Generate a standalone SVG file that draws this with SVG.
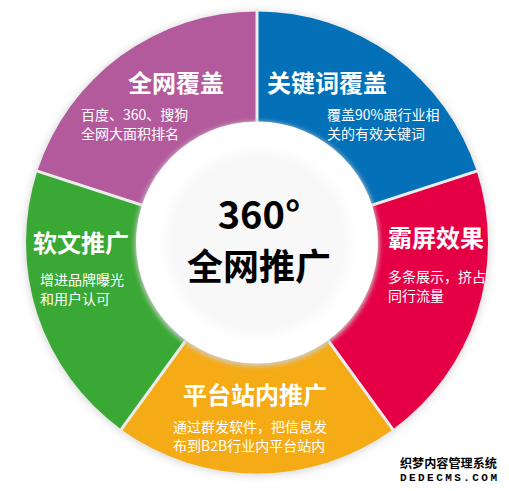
<svg xmlns="http://www.w3.org/2000/svg" width="509" height="491" viewBox="0 0 509 491">
  <style>
    .title { font-family: "Noto Sans CJK SC", "Microsoft YaHei", sans-serif; font-weight: bold; font-size: 24px; fill: #ffffff; }
    .desc { font-family: "Noto Sans CJK SC", "Microsoft YaHei", sans-serif; font-size: 14px; fill: #ffffff; }
    .center { font-family: "Noto Sans CJK SC", "Microsoft YaHei", sans-serif; font-weight: bold; fill: #000000; text-anchor: middle; }
    .sep { stroke: #ececec; stroke-width: 3; }
    .wm { font-family: "Noto Sans CJK SC", sans-serif; font-weight: bold; fill: #000000; stroke: #ffffff; stroke-width: 2.5; paint-order: stroke; stroke-linejoin: round; }
  </style>
  <defs>
    <filter id="outerShadow" x="-10%" y="-10%" width="120%" height="120%">
      <feGaussianBlur stdDeviation="4"/>
    </filter>
    <filter id="innerShadow" x="-20%" y="-20%" width="140%" height="140%">
      <feGaussianBlur stdDeviation="2.5"/>
    </filter>
    <radialGradient id="coreGrad" cx="0.5" cy="0.5" r="0.5">
      <stop offset="0.85" stop-color="#f8f8f8"/>
      <stop offset="1" stop-color="#ffffff"/>
    </radialGradient>
  </defs>
  <rect width="509" height="491" fill="#ffffff"/>
  <circle cx="257" cy="243.5" r="232" fill="#d8d8d8" filter="url(#outerShadow)"/>

  <g id="seg-quanwang">
    <path d="M257 242.5 L37.31 171.12 A231 231 0 0 1 257 11.5 Z" fill="#b35a9c"/>
  </g>
  <g id="seg-guanjianci">
    <path d="M257 242.5 L257 11.5 A231 231 0 0 1 476.69 171.12 Z" fill="#0370b8"/>
  </g>
  <g id="seg-bapin">
    <path d="M257 242.5 L476.69 171.12 A231 231 0 0 1 392.78 429.38 Z" fill="#e50046"/>
  </g>
  <g id="seg-pingtai">
    <path d="M257 242.5 L392.78 429.38 A231 231 0 0 1 121.22 429.38 Z" fill="#f5ab15"/>
  </g>
  <g id="seg-ruanwen">
    <path d="M257 242.5 L121.22 429.38 A231 231 0 0 1 37.31 171.12 Z" fill="#3aa835"/>
  </g>

  <g id="connectors">
    <line class="sep" x1="257" y1="242.5" x2="257" y2="9"/>
    <line class="sep" x1="257" y1="242.5" x2="479" y2="170.4"/>
    <line class="sep" x1="257" y1="242.5" x2="394.2" y2="431.4"/>
    <line class="sep" x1="257" y1="242.5" x2="119.8" y2="431.4"/>
    <line class="sep" x1="257" y1="242.5" x2="35" y2="170.4"/>
  </g>

  <g id="hub">
    <circle cx="257" cy="244" r="122" fill="#cfcfcf" filter="url(#innerShadow)"/>
    <circle cx="257" cy="242.5" r="121" fill="#ffffff"/>
    <circle cx="258" cy="243" r="100" fill="url(#coreGrad)"/>
    <text class="center" font-size="38"><tspan x="259" y="229">360°</tspan><tspan x="259" y="280" font-size="36">全网推广</tspan></text>
  </g>

  <g id="label-quanwang">
    <text class="title" x="128" y="92">全网覆盖</text>
    <text class="desc"><tspan x="81" y="119.5">百度、360、搜狗</tspan><tspan x="81" y="138.5">全网大面积排名</tspan></text>
  </g>
  <g id="label-guanjianci">
    <text class="title" x="267" y="92">关键词覆盖</text>
    <text class="desc"><tspan x="327" y="119.5">覆盖90%跟行业相</tspan><tspan x="327" y="138.5">关的有效关键词</tspan></text>
  </g>
  <g id="label-bapin">
    <text class="title" x="388" y="247">霸屏效果</text>
    <text class="desc"><tspan x="388" y="281.5">多条展示，挤占</tspan><tspan x="388" y="300.5">同行流量</tspan></text>
  </g>
  <g id="label-ruanwen">
    <text class="title" x="33" y="252">软文推广</text>
    <text class="desc"><tspan x="40" y="284.5">增进品牌曝光</tspan><tspan x="40" y="303.5">和用户认可</tspan></text>
  </g>
  <g id="label-pingtai">
    <text class="title" x="183" y="404">平台站内推广</text>
    <text class="desc"><tspan x="173" y="432">通过群发软件，把信息发</tspan><tspan x="173" y="451">布到B2B行业内平台站内</tspan></text>
  </g>

  <g id="watermark">
    <text class="wm" font-size="12"><tspan x="400" y="468" textLength="97" lengthAdjust="spacingAndGlyphs">织梦内容管理系统</tspan><tspan x="400" y="481" font-size="11" font-family="Liberation Mono, monospace" textLength="97" lengthAdjust="spacing">DEDECMS.COM</tspan></text>
  </g>
</svg>
